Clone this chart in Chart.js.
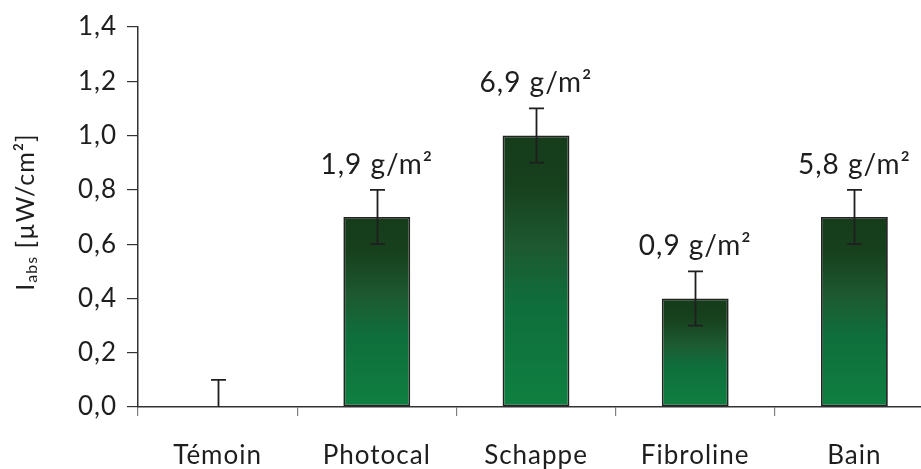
<!DOCTYPE html>
<html>
<head>
<meta charset="utf-8">
<script src="https://cdn.jsdelivr.net/npm/chart.js@4"></script>
<style>
  html, body { margin: 0; padding: 0; background: #fff; overflow: hidden; }
  .wrap { width: 936px; height: 469px; position: relative; }
</style>
</head>
<body>
<div class="wrap"><canvas id="chart"></canvas></div>
<script>
const categories = ['Témoin', 'Photocal', 'Schappe', 'Fibroline', 'Bain'];
const values = [0, 0.7, 1.0, 0.4, 0.7];
const errors = [0.1, 0.1, 0.1, 0.1, 0.1];
const loadLabels = ['', '1,9 g/m²', '6,9 g/m²', '0,9 g/m²', '5,8 g/m²'];
const yTicks = [0, 0.2, 0.4, 0.6, 0.8, 1.0, 1.2, 1.4];

const FONT = 'Lato, "Open Sans", sans-serif';
const SPACING = '1px';

const spacingPlugin = {
  id: 'spacing',
  beforeLayout(chart) { chart.ctx.letterSpacing = SPACING; },
  beforeDraw(chart) { chart.ctx.letterSpacing = SPACING; }
};

const errorPlugin = {
  id: 'errors',
  afterDatasetsDraw(chart) {
    const { ctx, chartArea, scales } = chart;
    const meta = chart.getDatasetMeta(0);
    ctx.save();
    ctx.beginPath();
    ctx.rect(chartArea.left, chartArea.top - 40, chartArea.right - chartArea.left, chartArea.bottom - chartArea.top + 40);
    ctx.clip();
    ctx.strokeStyle = '#1f1f1f';
    ctx.lineWidth = 1.8;
    meta.data.forEach((bar, i) => {
      const x = Math.round(bar.x) + 0.5;
      const top = scales.y.getPixelForValue(values[i] + errors[i]);
      const bot = scales.y.getPixelForValue(values[i] - errors[i]);
      ctx.beginPath();
      ctx.moveTo(x, top);
      ctx.lineTo(x, bot);
      ctx.moveTo(x - 7.5, top);
      ctx.lineTo(x + 7.5, top);
      ctx.moveTo(x - 7.5, bot);
      ctx.lineTo(x + 7.5, bot);
      ctx.stroke();
    });
    ctx.restore();

    ctx.save();
    ctx.letterSpacing = SPACING;
    ctx.fillStyle = '#1e1e1e';
    ctx.font = '28px ' + FONT;
    ctx.textAlign = 'center';
    ctx.textBaseline = 'alphabetic';
    meta.data.forEach((bar, i) => {
      if (!loadLabels[i]) return;
      const top = scales.y.getPixelForValue(values[i] + errors[i]);
      ctx.fillText(loadLabels[i], bar.x, top - 16);
    });
    ctx.restore();
  }
};

const titlePlugin = {
  id: 'ytitle',
  afterDraw(chart) {
    const { ctx } = chart;
    ctx.save();
    ctx.letterSpacing = SPACING;
    ctx.fillStyle = '#1e1e1e';
    ctx.textBaseline = 'alphabetic';
    ctx.textAlign = 'left';
    const parts = [
      { t: 'I', f: '25px ' + FONT, dy: 0 },
      { t: 'abs', f: '16px ' + FONT, dy: 3 },
      { t: ' [µW/cm²]', f: '25px ' + FONT, dy: 0 }
    ];
    let total = 0;
    parts.forEach(p => { ctx.font = p.f; p.w = ctx.measureText(p.t).width; total += p.w; });
    ctx.translate(34, 212);
    ctx.rotate(-Math.PI / 2);
    let x = -total / 2;
    parts.forEach(p => {
      ctx.font = p.f;
      ctx.fillText(p.t, x, p.dy);
      x += p.w;
    });
    ctx.restore();
  }
};

function barGradient(c) {
  const { chart } = c;
  const { ctx, chartArea, scales } = chart;
  if (!chartArea || c.raw === undefined) return '#0f7a3f';
  const top = scales.y.getPixelForValue(c.raw);
  const base = scales.y.getPixelForValue(0);
  if (base - top < 1) return '#0f7a3f';
  const g = ctx.createLinearGradient(0, top, 0, base);
  g.addColorStop(0, '#163c1b');
  g.addColorStop(0.18, '#17401d');
  g.addColorStop(0.42, '#1d5a31');
  g.addColorStop(0.62, '#0f6e3c');
  g.addColorStop(1, '#0f8040');
  return g;
}

new Chart(document.getElementById('chart'), {
  type: 'bar',
  data: {
    labels: categories,
    datasets: [{
      data: values,
      backgroundColor: barGradient,
      borderColor: '#232323',
      borderWidth: (c) => (c.raw ? 1.8 : 0),
      borderSkipped: false,
      barPercentage: 0.42,
      categoryPercentage: 1
    }]
  },
  options: {
    responsive: true,
    maintainAspectRatio: false,
    animation: false,
    layout: { padding: { top: 27, right: 2, left: 0, bottom: 0 } },
    plugins: {
      legend: { display: false },
      tooltip: { enabled: false }
    },
    scales: {
      x: {
        grid: { display: true, offset: true, drawOnChartArea: false, tickLength: 9, color: '#808080', lineWidth: 1.2 },
        border: { color: '#333', width: 1.5 },
        ticks: { color: '#1e1e1e', font: { family: FONT, size: 26 }, padding: 24, maxRotation: 0 },
        afterFit(scale) { scale.height = 62; }
      },
      y: {
        min: 0,
        max: 1.4,
        afterBuildTicks(scale) { scale.ticks = yTicks.map(v => ({ value: v })); },
        grid: { display: true, drawOnChartArea: false, tickLength: 11, color: '#333', lineWidth: 1.2 },
        border: { color: '#333', width: 1.5 },
        ticks: {
          color: '#1e1e1e',
          font: { family: FONT, size: 26 },
          padding: 10,
          callback: (v) => v.toFixed(1).replace('.', ',')
        },
        afterFit(scale) { scale.width = 138; }
      }
    }
  },
  plugins: [spacingPlugin, errorPlugin, titlePlugin]
});
</script>
</body>
</html>
